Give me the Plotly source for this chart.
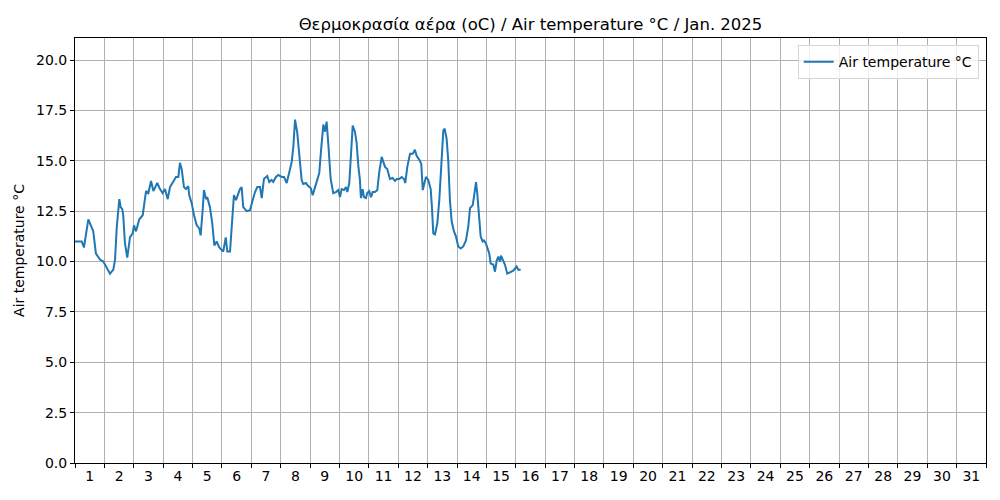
import pandas as pd
import plotly.graph_objects as go

TITLE = "Θερμοκρασία αέρα (oC) / Air temperature °C / Jan. 2025"
SERIES_NAME = "Air temperature °C"
START = pd.Timestamp("2025-01-01 00:00")
N_DAYS = 31

# hours since Jan 1 00:00
hours = [
    0, 5.5, 7.3, 10.9, 13.6, 14.9, 17.1, 20.4, 23.1,
    25.9, 28.6, 31.3, 32.7, 34.1, 35.4, 36.2, 37.3, 38.6, 39.4, 40.8, 42.7, 44.9, 47.1,
    48.2, 49.8, 52.5, 55.3, 58.0, 59.9, 62.1, 64.0, 67.2, 69.4, 71.6,
    73.5, 75.7, 77.6, 80.8, 82.5, 84.4, 85.7, 87.1, 87.9, 89.0, 90.6, 92.5, 93.3, 95.3,
    97.2, 99.4, 101.5, 102.6, 104.3, 105.3, 107.0, 108.0, 110.2, 112.1, 113.8, 115.7, 117.8,
    119.8, 121.1, 123.1, 124.4, 126.6, 128.0, 129.8, 131.5, 132.9, 134.7, 136.1, 137.4, 140.2, 142.9,
    145.1, 147.0, 148.9, 151.1, 152.5, 154.3, 157.0, 158.7, 160.6, 161.9, 164.1, 166.0,
    168.8, 170.7, 172.9, 175.0, 177.0, 178.3, 179.7, 181.5, 183.7, 185.1, 186.4, 188.6, 190.5,
    192.5, 194.1, 196.0, 197.9, 199.5, 200.9, 202.8, 204.2, 205.5, 206.8, 208.8, 210.9, 213.1,
    215.0, 216.4, 217.8, 219.7, 221.3, 222.4, 224.0, 225.4, 226.8, 228.6, 230.0, 231.3, 232.7,
    233.5, 234.9, 236.0, 237.6, 238.7, 240.3, 241.7, 243.1, 245.0, 246.9, 248.5, 250.5, 251.8,
    253.2, 255.0, 257.2, 259.4, 261.3, 262.7, 264.8, 266.8, 268.7, 269.7, 271.4, 273.6, 275.8,
    277.6, 279.0, 281.2, 282.8, 284.0, 285.2, 286.6, 288.5, 290.5, 291.5, 292.6, 294.0, 295.9,
    297.5, 299.5, 300.8, 301.9, 303.5, 304.8, 306.2, 307.6, 309.5, 311.1, 313.0, 315.0, 317.1,
    319.3, 321.2, 322.6, 324.8, 325.8, 327.5, 328.5, 330.2, 331.3, 332.9, 334.0, 335.6, 336.7,
    338.3, 339.5, 341.6, 343.0, 344.4, 345.7, 347.1, 347.9, 349.3, 351.1, 353.0, 355.2, 357.9,
    360.7, 362.0, 364.0,
]

temps = [
    11.0, 11.0, 10.7, 12.1, 11.7, 11.5, 10.4, 10.1, 10.0,
    9.7, 9.4, 9.6, 10.1, 11.7, 12.6, 13.1, 12.7, 12.6, 12.3, 10.9, 10.2, 11.2, 11.4,
    11.8, 11.5, 12.1, 12.3, 13.5, 13.4, 14.0, 13.5, 13.9, 13.6, 13.4,
    13.6, 13.1, 13.7, 14.0, 14.2, 14.2, 14.9, 14.6, 14.3, 13.7, 13.6, 13.75, 13.3, 12.9,
    12.3, 11.8, 11.65, 11.3, 12.6, 13.55, 13.1, 13.2, 12.7, 11.9, 10.8, 11.0, 10.7,
    10.6, 10.5, 11.2, 10.5, 10.5, 11.9, 13.3, 13.05, 13.3, 13.6, 13.7, 12.7, 12.5, 12.55,
    13.05, 13.45, 13.7, 13.7, 13.15, 14.1, 14.25, 13.95, 14.05, 13.95, 14.2, 14.3,
    14.2, 14.2, 13.9, 14.4, 14.95, 15.7, 17.05, 16.4, 14.9, 14.05, 13.85, 13.9, 13.75,
    13.65, 13.3, 13.65, 14.1, 14.4, 15.5, 16.8, 16.45, 16.95, 15.9, 14.1, 13.4, 13.45,
    13.55, 13.2, 13.6, 13.55, 13.7, 13.45, 13.9, 15.5, 16.75, 16.45, 15.9, 14.8, 14.05,
    13.15, 13.6, 13.2, 13.15, 13.4, 13.5, 13.2, 13.45, 13.45, 13.55, 14.45, 15.2, 14.95,
    14.7, 14.6, 14.1, 14.15, 14.0, 14.1, 14.1, 14.2, 14.1, 13.9, 14.7, 15.35, 15.35,
    15.55, 15.25, 15.05, 14.85, 13.55, 13.8, 14.2, 14.05, 13.6, 12.7, 11.4, 11.35, 11.9,
    13.05, 15.05, 16.5, 16.6, 16.1, 15.05, 13.05, 12.0, 11.5, 11.25, 10.75, 10.65, 10.75,
    11.05, 11.75, 12.65, 12.8, 13.2, 13.95, 13.4, 12.2, 11.25, 11.0, 11.05, 10.9, 10.65,
    10.4, 9.9, 9.85, 9.5, 10.05, 10.25, 10.0, 10.3, 10.1, 9.85, 9.4, 9.45, 9.55,
    9.75, 9.6, 9.6,
]

assert len(hours) == len(temps)

times = [START + pd.Timedelta(hours=h) for h in hours]
day_starts = [START + pd.Timedelta(days=d) for d in range(N_DAYS + 1)]
day_middles = [START + pd.Timedelta(days=d, hours=12) for d in range(N_DAYS)]
day_labels = [str(d + 1) for d in range(N_DAYS)]

FONT = "DejaVu Sans"
GRID = "#b0b0b0"

fig = go.Figure()
fig.add_trace(
    go.Scatter(
        x=times,
        y=temps,
        mode="lines",
        line={"color": "#1f77b4", "width": 2},
        name=SERIES_NAME,
        showlegend=True,
    )
)

fig.update_layout(
    width=1000,
    height=500,
    margin={"l": 75, "r": 14, "t": 38, "b": 37, "autoexpand": False},
    paper_bgcolor="white",
    plot_bgcolor="white",
    font={"family": FONT, "size": 14, "color": "black"},
    title={
        "text": TITLE,
        "x": (75 + 986) / 2 / 1000,
        "xanchor": "center",
        "y": 1 - 24 / 500,
        "yanchor": "middle",
        "font": {"family": FONT, "size": 16.5, "color": "black"},
    },
    legend={
        "x": 0.992,
        "xanchor": "right",
        "y": 0.983,
        "yanchor": "top",
        "bgcolor": "rgba(255,255,255,0.8)",
        "bordercolor": "#d6d6d6",
        "borderwidth": 1,
        "font": {"family": FONT, "size": 14},
        "tracegroupgap": 0,
    },
    showlegend=True,
)

fig.update_xaxes(
    range=[day_starts[0], day_starts[-1]],
    tickvals=day_middles,
    ticktext=day_labels,
    ticks="",
    showgrid=False,
    showline=True,
    linecolor="black",
    linewidth=1,
    mirror=True,
    tickfont={"family": FONT, "size": 14},
    minor={
        "tickvals": day_starts,
        "ticks": "outside",
        "ticklen": 4,
        "tickcolor": "black",
        "showgrid": True,
        "gridcolor": GRID,
        "gridwidth": 1,
    },
    zeroline=False,
)

fig.update_yaxes(
    range=[0, 21.1],
    dtick=2.5,
    tick0=0,
    tickformat=".1f",
    ticks="outside",
    ticklen=4,
    tickcolor="black",
    showgrid=True,
    gridcolor=GRID,
    gridwidth=1,
    showline=True,
    linecolor="black",
    linewidth=1,
    mirror=True,
    zeroline=False,
    tickfont={"family": FONT, "size": 14},
    title={"text": SERIES_NAME, "font": {"family": FONT, "size": 14}, "standoff": 8},
)

# the page body has a default 8px margin; drop it so the figure fills the window
fig.write_html(
    "out.html",
    config={"displayModeBar": False},
    post_script="document.body.style.margin = '0';",
)
